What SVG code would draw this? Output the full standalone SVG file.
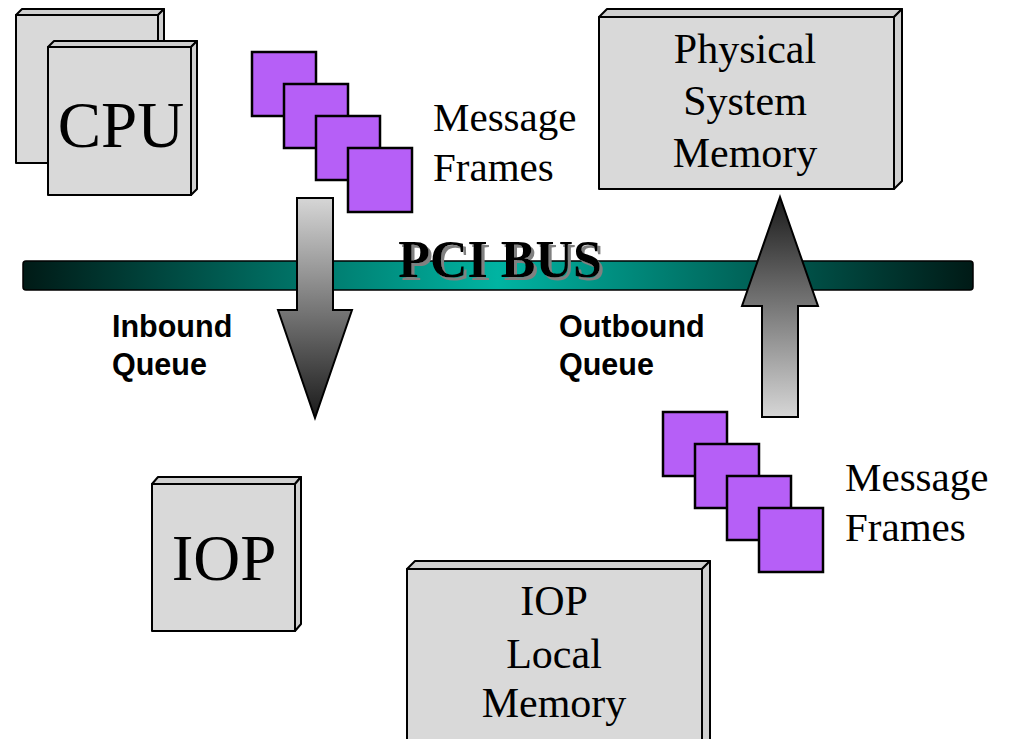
<svg xmlns="http://www.w3.org/2000/svg" width="1013" height="739" viewBox="0 0 1013 739">
<defs>
<linearGradient id="busGrad" x1="0" y1="0" x2="1" y2="0">
<stop offset="0" stop-color="#001a16"/>
<stop offset="0.5" stop-color="#00b4a2"/>
<stop offset="1" stop-color="#001a16"/>
</linearGradient>
<linearGradient id="downGrad" x1="0" y1="0" x2="0" y2="1">
<stop offset="0" stop-color="#d6d6d6"/>
<stop offset="1" stop-color="#1a1a1a"/>
</linearGradient>
<linearGradient id="upGrad" x1="0" y1="0" x2="0" y2="1">
<stop offset="0" stop-color="#1a1a1a"/>
<stop offset="1" stop-color="#d6d6d6"/>
</linearGradient>
<filter id="shadow" x="-10%" y="-20%" width="120%" height="150%">
<feFlood flood-color="#808080" result="c"/>
<feComposite in="c" in2="SourceAlpha" operator="in" result="s"/>
<feOffset in="s" dx="3" dy="3" result="o"/>
<feMerge><feMergeNode in="o"/><feMergeNode in="SourceGraphic"/></feMerge>
</filter>
</defs>
<style>
.box{fill:#d9d9d9;stroke:#000;stroke-width:2;stroke-linejoin:round}
.side{fill:#cfcfcf;stroke:#000;stroke-width:2;stroke-linejoin:round}
.frame{fill:#b65ff7;stroke:#000;stroke-width:2.5}
.serif{font-family:"Liberation Serif","Times New Roman",serif;fill:#000}
.big{font-size:65px}
.mid{font-size:42px}
.msg{font-size:41px}
.sans{font-family:"Liberation Sans",Arial,sans-serif;font-weight:bold;font-size:30.5px;fill:#000}
.arrow{stroke:#000;stroke-width:2;stroke-linejoin:miter}
</style>
<rect width="1013" height="739" fill="#fff"/>

<g id="cpu-back">
<rect class="box" x="16" y="15" width="142" height="148"/>
<polygon class="side" points="16,15 22,9 164,9 158,15"/>
<polygon class="side" points="158,15 164,9 164,157 158,163"/>
</g>
<g id="cpu">
<rect class="box" x="48" y="47" width="143" height="148"/>
<polygon class="side" points="48,47 54,41 197,41 191,47"/>
<polygon class="side" points="191,47 197,41 197,189 191,195"/>
<text class="serif big" x="121" y="147" text-anchor="middle">CPU</text>
</g>

<g id="physical-system-memory">
<rect class="box" x="599" y="17" width="295" height="172"/>
<polygon class="side" points="599,17 607,9 902,9 894,17"/>
<polygon class="side" points="894,17 902,9 902,181 894,189"/>
<text class="serif mid" x="745" y="63" text-anchor="middle">Physical</text>
<text class="serif mid" x="745" y="115" text-anchor="middle">System</text>
<text class="serif mid" x="745" y="167" text-anchor="middle">Memory</text>
</g>

<g id="message-frames-top">
<rect class="frame" x="252" y="52" width="64" height="64"/>
<rect class="frame" x="284" y="84" width="64" height="64"/>
<rect class="frame" x="316" y="116" width="64" height="64"/>
<rect class="frame" x="348" y="148" width="64" height="64"/>
<text class="serif msg" x="433" y="131">Message</text>
<text class="serif msg" x="433" y="181">Frames</text>
</g>

<g id="pci-bus">
<rect x="23" y="261" width="950" height="29" rx="3" fill="url(#busGrad)" stroke="#000" stroke-width="1.5"/>
<text x="500" y="277" text-anchor="middle" font-family="Liberation Serif,'Times New Roman',serif" font-weight="bold" font-size="52" fill="#000" filter="url(#shadow)">PCI BUS</text>
</g>

<g id="connectors">
<path class="arrow" fill="url(#downGrad)" d="M297,198 L333,198 L333,310 L352,310 L315,418 L278,310 L297,310 Z"/>
<path class="arrow" fill="url(#upGrad)" d="M780,197 L818,306 L798,306 L798,417 L762,417 L762,306 L742,306 Z"/>
</g>

<g id="inbound-label">
<text class="sans" x="112" y="337">Inbound</text>
<text class="sans" x="112" y="375">Queue</text>
</g>
<g id="outbound-label">
<text class="sans" x="559" y="337">Outbound</text>
<text class="sans" x="559" y="375">Queue</text>
</g>

<g id="message-frames-bottom">
<rect class="frame" x="663" y="412" width="64" height="64"/>
<rect class="frame" x="695" y="444" width="64" height="64"/>
<rect class="frame" x="727" y="476" width="64" height="64"/>
<rect class="frame" x="759" y="508" width="64" height="64"/>
<text class="serif msg" x="845" y="491">Message</text>
<text class="serif msg" x="845" y="541">Frames</text>
</g>

<g id="iop">
<rect class="box" x="152" y="484" width="143" height="147"/>
<polygon class="side" points="152,484 158,477 301,477 295,484"/>
<polygon class="side" points="295,484 301,477 301,624 295,631"/>
<text class="serif big" x="224" y="580" text-anchor="middle">IOP</text>
</g>

<g id="iop-local-memory">
<rect class="box" x="407" y="569" width="295" height="180"/>
<polygon class="side" points="407,569 415,561 710,561 702,569"/>
<polygon class="side" points="702,569 710,561 710,749 702,749"/>
<text class="serif mid" x="554" y="615" text-anchor="middle">IOP</text>
<text class="serif mid" x="554" y="668" text-anchor="middle">Local</text>
<text class="serif mid" x="554" y="717" text-anchor="middle">Memory</text>
</g>
</svg>
